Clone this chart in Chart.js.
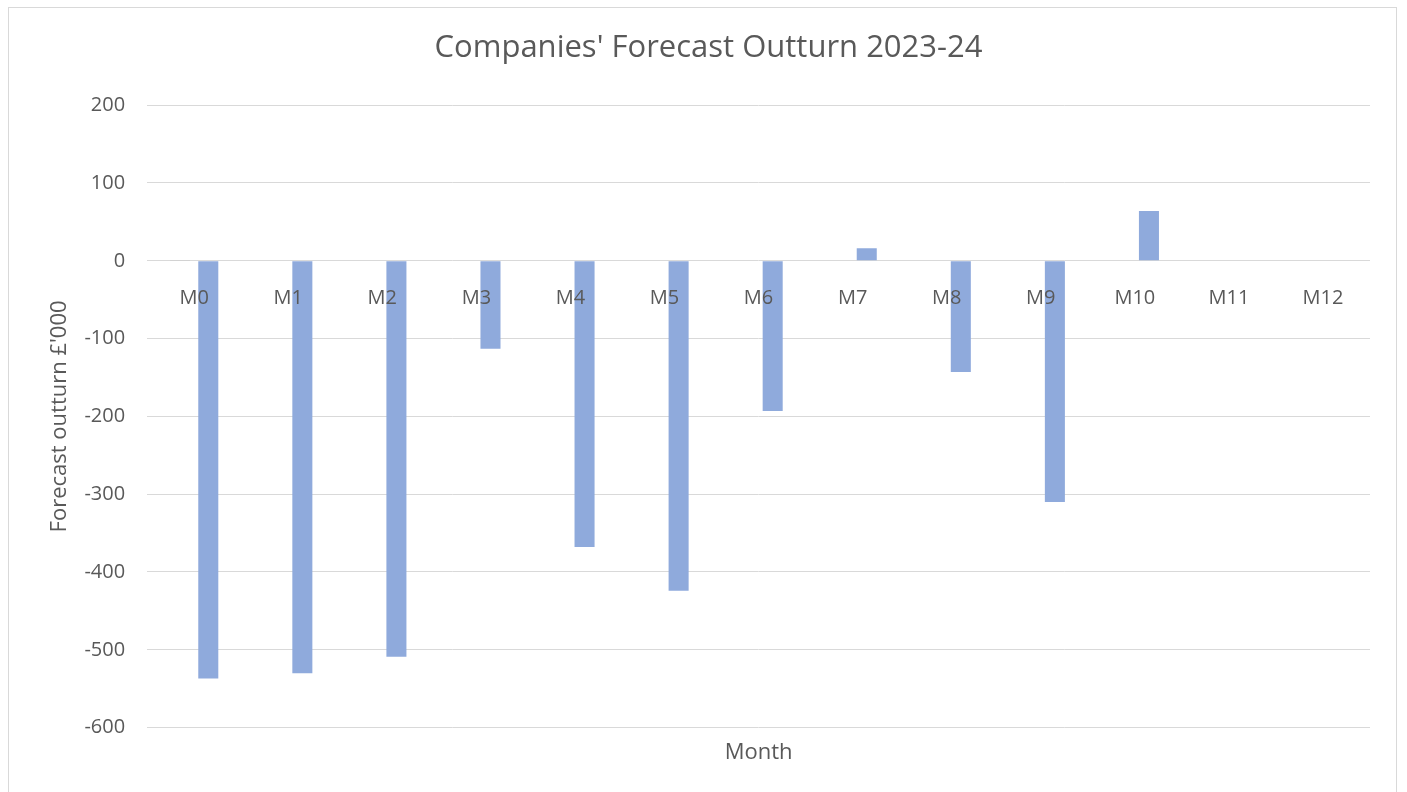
<!DOCTYPE html>
<html>
<head>
<meta charset="utf-8">
<script src="https://cdn.jsdelivr.net/npm/chart.js@4/dist/chart.umd.min.js"></script>
<style>
  body { margin: 0; background: #fff; }
  .frame {
    position: absolute; left: 8px; top: 7px;
    width: 1389px; height: 800px;
    border: 1px solid #d9d9d9; box-sizing: border-box;
  }
  .frame div { position: absolute; left: 0; top: 0; width: 1387px; height: 790px; }
</style>
</head>
<body>
<div class="frame"><div><canvas id="forecastChart"></canvas></div></div>
<script>
const months = ["M0", "M1", "M2", "M3", "M4", "M5", "M6", "M7", "M8", "M9", "M10", "M11", "M12"];
const baseline = [1, null, null, null, null, null, null, null, null, null, null, null, null];
const outturn = [-537, -530, -509, -113, -368, -424, -193, 16, -143, -310, 64, null, null];
const yTicks = [200, 100, 0, -100, -200, -300, -400, -500, -600];

const textColor = "#595959";
const gridColor = "#d9d9d9";
const font = "'Open Sans', sans-serif";

const forecastData = {
  labels: months,
  datasets: [
    {
      label: "Budget",
      backgroundColor: "#bfbfbf",
      data: baseline,
    },
    {
      label: "Forecast outturn",
      backgroundColor: "#8faadc",
      data: outturn,
    },
  ],
};

const forecastConfig = {
  type: "bar",
  data: forecastData,
  options: {
    responsive: true,
    maintainAspectRatio: false,
    animation: false,
    datasets: {
      bar: { categoryPercentage: 0.6, barPercentage: 0.71 },
    },
    layout: { padding: { left: 38, right: 26, top: 12, bottom: 32 } },
    scales: {
      y: {
        min: Math.min(...yTicks),
        max: Math.max(...yTicks),
        afterBuildTicks: (axis) => { axis.ticks = yTicks.map((v) => ({ value: v })) },
        grid: { color: gridColor, drawTicks: false },
        border: { display: false },
        ticks: { color: textColor, padding: 22, font: { family: font, size: 20 } },
        title: {
          display: true,
          text: "Forecast outturn £'000",
          color: textColor,
          font: { family: font, size: 22 },
          padding: { top: 0, bottom: -11 },
        },
      },
      x: {
        position: { y: 0 },
        grid: { display: false },
        border: { display: false },
        ticks: { z: 1, color: textColor, padding: 17, font: { family: font, size: 20 } },
      },
      x2: {
        type: "category",
        position: "bottom",
        grid: { display: false },
        border: { display: false },
        ticks: { display: false },
        title: {
          display: true,
          text: "Month",
          color: textColor,
          font: { family: font, size: 22 },
          padding: { top: 4, bottom: 0 },
        },
      },
    },
    plugins: {
      legend: { display: false },
      tooltip: { enabled: false },
      title: {
        display: true,
        text: "Companies' Forecast Outturn 2023-24",
        color: textColor,
        font: { family: font, size: 31, weight: "normal" },
        padding: { top: 10, bottom: 38 },
      },
    },
  },
};

new Chart(document.getElementById("forecastChart"), forecastConfig);
</script>
</body>
</html>
